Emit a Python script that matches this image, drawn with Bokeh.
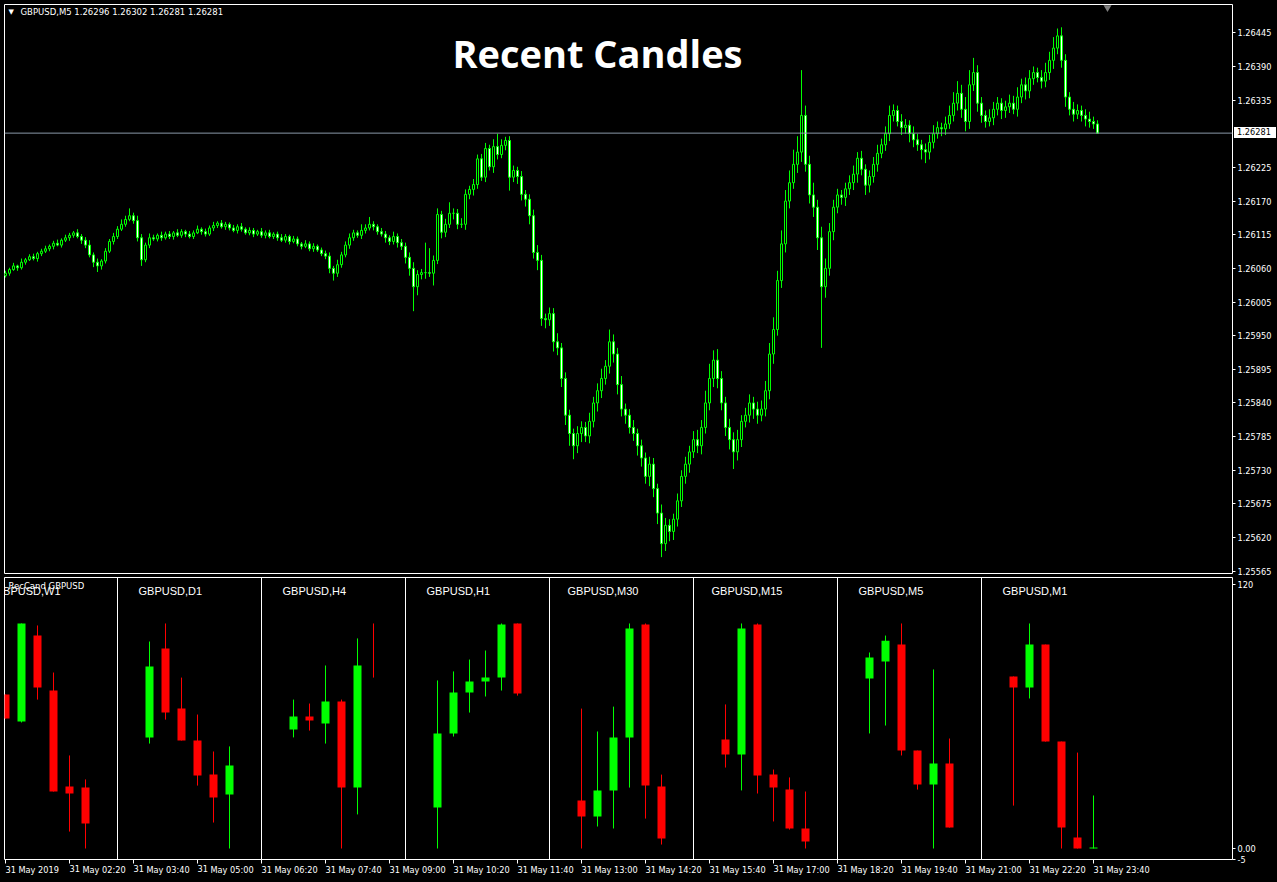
from bokeh.plotting import figure
from bokeh.models import Range1d, LinearAxis, FixedTicker, Label, Span, NumeralTickFormatter, Div
from bokeh.layouts import column
from bokeh.embed import file_html
from bokeh.resources import INLINE
from bokeh.core.properties import value

# ------------------------------------------------------------------ data
symbol = "GBPUSD"
chart_tf = "M5"
chart_title = "Recent Candles"
indicator_name = "RecCand GBPUSD"
first_bar_time = "01:00"
bar_minutes = 5

# main chart closes in points (1 point = 0.00001)
first_open_pts = 126048
close_pts = [
    126052, 126058, 126064, 126061, 126070, 126074, 126079, 126076, 126084, 126088,
    126092, 126096, 126101, 126098, 126106, 126110, 126114, 126118, 126112, 126106,
    126098, 126082, 126070, 126064, 126072, 126088, 126104, 126112, 126124, 126132,
    126140, 126146, 126138, 126110, 126074, 126098, 126110, 126108, 126114, 126110,
    126116, 126112, 126118, 126114, 126120, 126116, 126112, 126118, 126124, 126120,
    126116, 126126, 126130, 126134, 126128, 126132, 126126, 126122, 126128, 126124,
    126118, 126122, 126116, 126120, 126114, 126118, 126112, 126116, 126110, 126106,
    126112, 126104, 126108, 126100, 126096, 126100, 126092, 126096, 126090, 126084,
    126080, 126060, 126052, 126066, 126082, 126098, 126110, 126118, 126114, 126122,
    126126, 126132, 126128, 126120, 126116, 126110, 126104, 126112, 126102, 126096,
    126078, 126060, 126030, 126050, 126053, 126053, 126052, 126073, 126148, 126119,
    126132, 126150, 126150, 126132, 126132, 126181, 126189, 126197, 126239, 126209,
    126256, 126226, 126259, 126246, 126261, 126269, 126209, 126220, 126210, 126181,
    126173, 126146, 126086, 126073, 125978, 125976, 125986, 125940, 125930, 125880,
    125820, 125790, 125770, 125790, 125800, 125786, 125810, 125840, 125860, 125880,
    125900, 125940, 125920, 125870, 125830, 125820, 125800, 125790, 125770, 125750,
    125720, 125740, 125700, 125660, 125610, 125640, 125630, 125650, 125680, 125720,
    125740, 125760, 125780, 125770, 125800, 125840, 125880, 125910, 125880, 125840,
    125800, 125780, 125760, 125780, 125810, 125820, 125840, 125830, 125820, 125830,
    125860, 125920, 125960, 126040, 126100, 126170, 126200, 126230, 126250, 126310,
    126230, 126180, 126160, 126110, 126030, 126060, 126120, 126160, 126180, 126176,
    126190, 126200, 126214, 126240, 126222, 126196, 126210, 126230, 126248, 126262,
    126280, 126310, 126318, 126300, 126290, 126294, 126280, 126270, 126262, 126254,
    126250, 126266, 126280, 126290, 126288, 126296, 126310, 126330, 126346, 126320,
    126300, 126360, 126380, 126330, 126310, 126300, 126306, 126320, 126330, 126318,
    126324, 126330, 126320, 126340, 126360, 126350, 126370, 126380, 126372, 126366,
    126380, 126400, 126420, 126440, 126400, 126340, 126320, 126312, 126318, 126310,
    126304, 126300, 126296, 126281,
]
upper_wick_pts = [
    4, 3, 5, 2, 6, 3, 4, 5, 3, 4,
    5, 3, 4, 6, 3, 5, 4, 3, 6, 4,
    5, 8, 4, 6, 3, 5, 4, 6, 5, 8,
    6, 12, 5, 8, 6, 4, 7, 5, 3, 6,
    4, 5, 3, 6, 4, 3, 5, 4, 6, 3,
    5, 4, 6, 3, 5, 4, 3, 5, 4, 6,
    3, 5, 4, 3, 6, 4, 5, 3, 4, 6,
    4, 3, 5, 4, 3, 6, 4, 5, 3, 4,
    5, 6, 4, 8, 5, 6, 7, 5, 4, 10,
    6, 12, 5, 4, 6, 5, 4, 8, 5, 6,
    6, 8, 10, 7, 6, 49, 40, 8, 10, 6,
    9, 18, 8, 7, 10, 8, 6, 9, 7, 8,
    9, 6, 12, 21, 10, 6, 7, 8, 6, 9,
    7, 8, 10, 12, 9, 8, 10, 9, 14, 8,
    10, 9, 8, 12, 10, 9, 14, 10, 12, 16,
    10, 20, 12, 10, 14, 9, 10, 12, 8, 10,
    9, 12, 10, 8, 14, 12, 10, 9, 12, 10,
    12, 10, 14, 16, 12, 20, 24, 16, 18, 12,
    10, 14, 12, 16, 10, 12, 14, 10, 12, 14,
    16, 18, 20, 16, 22, 18, 20, 24, 26, 74,
    16, 14, 20, 12, 18, 16, 14, 12, 10, 8,
    10, 12, 14, 10, 12, 8, 10, 12, 14, 10,
    12, 16, 10, 8, 12, 10, 8, 12, 10, 8,
    10, 12, 14, 10, 8, 12, 16, 18, 20, 14,
    20, 24, 24, 12, 10, 8, 14, 12, 10, 8,
    10, 14, 12, 16, 10, 12, 14, 10, 8, 12,
    16, 14, 18, 12, 14, 10, 8, 12, 10, 8,
    10, 12, 8, 6,
]
lower_wick_pts = [
    3, 4, 2, 5, 3, 4, 2, 3, 5, 4,
    3, 4, 5, 2, 4, 3, 5, 4, 3, 6,
    5, 4, 8, 10, 6, 4, 3, 5, 4, 3,
    4, 3, 5, 6, 10, 4, 5, 3, 4, 5,
    3, 4, 5, 3, 4, 5, 3, 4, 2, 5,
    4, 3, 5, 4, 3, 5, 4, 3, 5, 4,
    3, 4, 5, 3, 4, 5, 3, 4, 5, 3,
    4, 5, 3, 4, 5, 3, 4, 5, 3, 4,
    5, 8, 12, 6, 5, 4, 6, 5, 4, 6,
    5, 4, 6, 5, 4, 8, 6, 5, 8, 6,
    10, 12, 40, 14, 8, 10, 6, 20, 6, 10,
    8, 6, 10, 8, 6, 9, 8, 10, 7, 6,
    8, 6, 10, 8, 6, 8, 22, 8, 12, 10,
    12, 14, 10, 16, 12, 14, 10, 16, 12, 14,
    16, 20, 22, 12, 14, 10, 12, 10, 14, 12,
    10, 12, 14, 16, 12, 14, 10, 12, 16, 14,
    12, 16, 14, 18, 22, 12, 16, 14, 12, 10,
    12, 14, 10, 12, 14, 10, 12, 14, 16, 12,
    14, 16, 28, 14, 12, 10, 12, 16, 14, 10,
    12, 14, 16, 10, 12, 14, 12, 10, 14, 16,
    12, 14, 16, 20, 100, 18, 12, 14, 10, 12,
    14, 10, 12, 14, 10, 16, 12, 10, 12, 8,
    10, 12, 10, 8, 12, 10, 14, 12, 10, 16,
    18, 12, 10, 8, 12, 10, 8, 10, 12, 14,
    16, 12, 10, 14, 12, 10, 8, 12, 10, 14,
    12, 10, 8, 12, 10, 14, 12, 10, 8, 12,
    10, 12, 14, 10, 12, 16, 10, 12, 8, 10,
    12, 10, 8, 0,
]

price_ticks = [1.25565, 1.25620, 1.25675, 1.25730, 1.25785, 1.25840, 1.25895, 1.25950,
               1.26005, 1.26060, 1.26115, 1.26170, 1.26225, 1.26335, 1.26390, 1.26445]

tick_times = ["01:00", "02:20", "03:40", "05:00", "06:20", "07:40", "09:00", "10:20", "11:40",
              "13:00", "14:20", "15:40", "17:00", "18:20", "19:40", "21:00", "22:20", "23:40"]
tick_labels = ["31 May 2019", "31 May 02:20", "31 May 03:40", "31 May 05:00", "31 May 06:20",
               "31 May 07:40", "31 May 09:00", "31 May 10:20", "31 May 11:40", "31 May 13:00",
               "31 May 14:20", "31 May 15:40", "31 May 17:00", "31 May 18:20", "31 May 19:40",
               "31 May 21:00", "31 May 22:20", "31 May 23:40"]

# indicator sub-window: last 6 candles of each timeframe, scaled 0..~102
timeframes = ["W1", "D1", "H4", "H1", "M30", "M15", "M5", "M1"]
mini_open = [
    [70.0, 57.7, 96.8, 71.8, 28.2, 27.7],
    [50.5, 90.9, 63.6, 49.1, 33.6, 24.5],
    [54.1, 60.0, 56.8, 66.8, 27.7, 77.7],
    [18.6, 52.3, 70.9, 75.9, 77.7, 102.3],
    [21.8, 14.5, 26.4, 50.5, 101.8, 28.2],
    [49.5, 42.7, 101.8, 33.6, 26.8, 9.1],
    [77.3, 85.0, 92.7, 44.5, 29.1, 38.6],
    [78.2, 73.2, 92.7, 48.6, 5.0, 0.0],
]
mini_high = [
    [70.0, 102.3, 101.4, 80.0, 42.3, 31.4],
    [94.1, 102.3, 77.7, 60.9, 44.1, 46.4],
    [67.7, 65.9, 83.2, 67.7, 95.5, 102.3],
    [76.4, 80.5, 85.9, 90.0, 102.3, 102.3],
    [63.6, 53.2, 64.5, 102.3, 102.3, 33.6],
    [65.5, 102.3, 102.3, 35.9, 32.3, 25.9],
    [89.1, 96.8, 102.3, 44.5, 81.4, 50.0],
    [78.2, 102.3, 92.7, 48.6, 43.6, 24.1],
]
mini_low = [
    [59.1, 57.3, 67.7, 25.9, 7.7, 0.0],
    [47.7, 58.6, 49.1, 28.6, 11.8, 0.0],
    [50.5, 53.6, 47.7, 0.0, 15.5, 77.7],
    [0.0, 50.9, 61.8, 69.1, 71.8, 69.5],
    [0.0, 10.0, 9.1, 27.7, 13.6, 1.8],
    [36.8, 26.4, 25.0, 12.3, 8.6, 0.0],
    [52.3, 55.9, 42.3, 26.8, 0.0, 9.5],
    [19.5, 68.2, 48.6, 0.0, 0.0, 0.0],
]
mini_close = [
    [59.1, 102.3, 73.2, 25.9, 25.0, 11.4],
    [82.7, 61.8, 49.1, 33.2, 23.2, 37.7],
    [60.0, 58.2, 66.8, 27.7, 83.2, 77.7],
    [52.3, 70.9, 75.9, 77.7, 101.8, 70.5],
    [14.5, 26.4, 50.5, 100.0, 28.6, 4.5],
    [42.7, 100.0, 33.2, 27.7, 9.1, 3.2],
    [86.8, 94.5, 44.5, 29.1, 38.6, 9.5],
    [73.2, 92.7, 48.6, 9.5, 0.0, 0.4],
]
sub_ticks = [-5, 0, 120]
sub_tick_labels = ["-5", "0.00", "120"]
sub_min, sub_max = -5, 123.2

# ------------------------------------------------------------------ style
BG = "#000000"
FG = "#ffffff"
BULL = "#00ff00"
BEAR = "#ff0000"
BAR_LINE = "#00ff00"
BULL_BODY = "#000000"
BEAR_BODY = "#ffffff"
CUR_LINE = "#8a98a8"
AXIS_FONT = "DejaVu Sans"
AXIS_FS = "8.2px"


def to_min(hhmm):
    hh, mm = hhmm.split(":")
    return int(hh) * 60 + int(mm)


# ------------------------------------------------------------------ main series
t0 = to_min(first_bar_time)
times = [t0 + bar_minutes * i for i in range(len(close_pts))]
open_pts = [first_open_pts] + close_pts[:-1]
o = [v / 1e5 for v in open_pts]
c = [v / 1e5 for v in close_pts]
h = [(max(a, b) + u) / 1e5 for a, b, u in zip(open_pts, close_pts, upper_wick_pts)]
l = [(min(a, b) - d) / 1e5 for a, b, d in zip(open_pts, close_pts, lower_wick_pts)]
top = [max(a, b) for a, b in zip(o, c)]
bot = [min(a, b) for a, b in zip(o, c)]
body_fill = [BULL_BODY if b >= a else BEAR_BODY for a, b in zip(open_pts, close_pts)]

# layout (pixels of the 1277 x 882 window)
W = 1277
FRAME_L, FRAME_R = 4, 1232
PX_PER_MIN = 4 / bar_minutes          # 4 px per bar
FIRST_BAR_PX = 5
REF_PRICE, REF_PX, PX_PER_PRICE = 1.26445, 32.3, 61182.0
TOP_H, FRAME_T1, FRAME_B1 = 576, 4, 573
BOT_H, FRAME_T2, FRAME_B2 = 306, 577, 859

time_range = Range1d(start=t0 - (FIRST_BAR_PX - FRAME_L) / PX_PER_MIN,
                     end=t0 + (FRAME_R - FIRST_BAR_PX) / PX_PER_MIN)
price_range = Range1d(start=REF_PRICE - (FRAME_B1 - REF_PX) / PX_PER_PRICE,
                      end=REF_PRICE + (REF_PX - FRAME_T1) / PX_PER_PRICE)


def px_t(px):
    return t0 + (px - FIRST_BAR_PX) / PX_PER_MIN


def px_p(py):
    return REF_PRICE - (py - REF_PX) / PX_PER_PRICE


def p_px(price):
    return REF_PX + (REF_PRICE - price) * PX_PER_PRICE


def base_fig(width, height, xr, yr, top_b, bot_b):
    f = figure(width=width, height=height, x_range=xr, y_range=yr,
               output_backend="svg", toolbar_location=None,
               x_axis_location=None, y_axis_location=None,
               background_fill_color=BG, border_fill_color=BG,
               outline_line_color=FG, outline_line_width=1,
               min_border_left=FRAME_L, min_border_right=W - FRAME_R,
               min_border_top=top_b, min_border_bottom=bot_b)
    f.xgrid.grid_line_color = None
    f.ygrid.grid_line_color = None
    return f


def style_axis(ax):
    ax.axis_line_color = None
    ax.major_tick_line_color = FG
    ax.major_tick_in = 0
    ax.major_tick_out = 3
    ax.minor_tick_line_color = None
    ax.major_label_text_color = FG
    ax.major_label_text_font = AXIS_FONT
    ax.major_label_text_font_size = AXIS_FS
    ax.major_label_standoff = 2


# ------------------------------------------------------------------ top figure
p = base_fig(W, TOP_H, time_range, price_range, FRAME_T1, TOP_H - FRAME_B1)

pax = LinearAxis(ticker=FixedTicker(ticks=price_ticks),
                 formatter=NumeralTickFormatter(format="0.00000"))
style_axis(pax)
p.add_layout(pax, "right")

p.add_layout(Span(location=c[-1], dimension="width", line_color=CUR_LINE, line_width=1))

p.segment(x0=times, y0=l, x1=times, y1=h, line_color=BAR_LINE, line_width=1)
p.vbar(x=times, width=bar_minutes * 0.5, top=top, bottom=bot,
       fill_color=body_fill, line_color=BAR_LINE, line_width=1)

p.scatter(x=[px_t(1107)], y=[px_p(7)], marker="inverted_triangle", size=8,
          fill_color="#808080", line_color=None)

p.add_layout(Label(x=px_t(8), y=px_p(11.5), text="▼", text_color=FG,
                   text_font=AXIS_FONT, text_font_size="7px",
                   text_baseline="middle", text_align="left"))
p.add_layout(Label(x=px_t(20), y=px_p(11.5),
                   text=f"{symbol},{chart_tf}  {o[-1]:.5f} {h[-1]:.5f} {l[-1]:.5f} {c[-1]:.5f}",
                   text_color=FG, text_font=AXIS_FONT, text_font_size="8.5px",
                   text_baseline="middle", text_align="left"))
p.add_layout(Label(x=px_t(597), y=px_p(52), text=chart_title, text_color=FG,
                   text_font="Open Sans", text_font_style="bold",
                   text_font_size="38px", text_align="center", text_baseline="middle"))

# ------------------------------------------------------------------ bottom figure
SLOT_PX = 16
SLOTS_PER_PANEL = 9
sub_x = Range1d(start=(FRAME_L - FIRST_BAR_PX) / SLOT_PX, end=(FRAME_R - FIRST_BAR_PX) / SLOT_PX)
sub_y = Range1d(start=sub_min, end=sub_max)
q = base_fig(W, BOT_H, sub_x, sub_y, FRAME_T2 - TOP_H, BOT_H - (FRAME_B2 - TOP_H))
q.extra_x_ranges = {"time": time_range}

tax = LinearAxis(x_range_name="time",
                 ticker=FixedTicker(ticks=[to_min(t) for t in tick_times]),
                 major_label_overrides={to_min(t): s for t, s in zip(tick_times, tick_labels)})
style_axis(tax)
tax.major_tick_out = 4
tax.major_label_orientation = -1e-6      # numeric orientation -> left aligned at the tick
tax.major_label_standoff = 6
q.add_layout(tax, "below")

sax = LinearAxis(ticker=FixedTicker(ticks=sub_ticks),
                 major_label_overrides={t: s for t, s in zip(sub_ticks, sub_tick_labels)})
style_axis(sax)
q.add_layout(sax, "right")

for k in range(1, len(timeframes)):
    q.add_layout(Span(location=SLOTS_PER_PANEL * k - 2, dimension="height",
                      line_color=FG, line_width=1))

mx, mo, mh, ml, mc, mcol, lx, lt = [], [], [], [], [], [], [], []
for k, tf in enumerate(timeframes):
    for j in range(6):
        mx.append(SLOTS_PER_PANEL * k + j)
        mo.append(mini_open[k][j])
        mh.append(mini_high[k][j])
        ml.append(mini_low[k][j])
        mc.append(mini_close[k][j])
        mcol.append(BULL if mini_close[k][j] > mini_open[k][j] else BEAR)
    lx.append(SLOTS_PER_PANEL * k - 2 + (21 if len(tf) == 2 else 18) / SLOT_PX)
    lt.append(f"{symbol},{tf}")

q.segment(x0=mx, y0=ml, x1=mx, y1=mh, line_color=mcol, line_width=1)
q.quad(left=[x - 0.25 for x in mx], right=[x + 0.25 for x in mx],
       top=[max(a, b) for a, b in zip(mo, mc)], bottom=[min(a, b) for a, b in zip(mo, mc)],
       fill_color=mcol, line_color=None)

q.text(x=lx, y=[(FRAME_B2 - 11 - 590) / 2.2] * len(lx), text=lt, text_color=FG,
       text_font=value("Liberation Sans"), text_font_size="11px",
       text_baseline="middle", text_align="left")
q.text(x=[(8 - FIRST_BAR_PX) / SLOT_PX], y=[(FRAME_B2 - 11 - 585) / 2.2], text=[indicator_name],
       text_color=FG, text_font=value(AXIS_FONT), text_font_size="8.5px",
       text_baseline="middle", text_align="left")

# current-price tag on the price scale (drawn over the axis area)
BOX_H = 11
price_tag = Div(text=f"{c[-1]:.5f}", width=W - FRAME_R - 3, height=BOX_H, margin=0,
                styles={"position": "absolute",
                        "left": f"{FRAME_R + 2}px",
                        "top": f"{round(p_px(c[-1]) - BOX_H / 2)}px",
                        "margin": "0px",
                        "background-color": FG, "color": "#000000",
                        "font-family": AXIS_FONT, "font-size": AXIS_FS,
                        "line-height": f"{BOX_H}px", "padding-left": "3px",
                        "box-sizing": "border-box", "overflow": "hidden",
                        "z-index": "10"})

layout = column(p, q, price_tag, spacing=0)

TEMPLATE = """{% block preamble %}<style>html, body { margin: 0 !important; padding: 0 !important; background: #000000; overflow: hidden; }</style>{% endblock %}"""
try:
    html = file_html(layout, INLINE, template=TEMPLATE)
except Exception:
    html = file_html(layout, INLINE)
open("out.html", "w").write(html)
